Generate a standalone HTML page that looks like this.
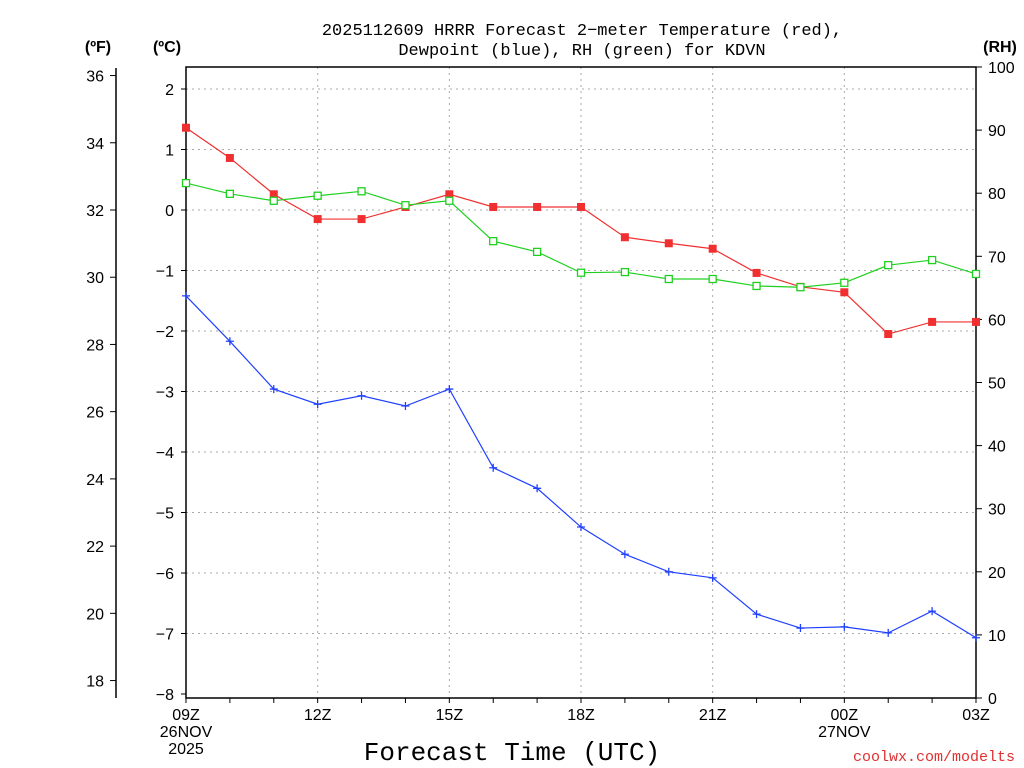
<!DOCTYPE html>
<html><head><meta charset="utf-8"><style>
body{margin:0;background:#fff;}
svg{display:block;font-family:"Liberation Sans",sans-serif;}
</style></head><body>
<svg id="c" width="1024" height="768" viewBox="0 0 1024 768"></svg>
<script>
const hours=["09Z","10Z","11Z","12Z","13Z","14Z","15Z","16Z","17Z","18Z","19Z","20Z","21Z","22Z","23Z","00Z","01Z","02Z","03Z"];
const tempC=[1.36,0.86,0.26,-0.15,-0.15,0.05,0.26,0.05,0.05,0.05,-0.45,-0.55,-0.64,-1.04,-1.27,-1.36,-2.05,-1.85,-1.85];
const dewC=[-1.42,-2.17,-2.96,-3.21,-3.07,-3.24,-2.96,-4.26,-4.60,-5.24,-5.69,-5.98,-6.08,-6.68,-6.91,-6.89,-6.99,-6.63,-7.07];
const rh=[81.6,79.9,78.8,79.6,80.3,78.1,78.8,72.4,70.7,67.4,67.5,66.4,66.4,65.3,65.1,65.8,68.6,69.4,67.2];
const cTicks=[2,1,0,-1,-2,-3,-4,-5,-6,-7,-8];
const fTicks=[36,34,32,30,28,26,24,22,20,18];
const rhTicks=[100,90,80,70,60,50,40,30,20,10,0];
const xLabels=[{i:0,t:["09Z","26NOV","2025"]},{i:3,t:["12Z"]},{i:6,t:["15Z"]},{i:9,t:["18Z"]},{i:12,t:["21Z"]},{i:15,t:["00Z","27NOV"]},{i:18,t:["03Z"]}];

const L=186,R=976,T=67,B=698;
const X=i=>L+i*(R-L)/(hours.length-1);
const YC=c=>210-c*60.5;
const YF=f=>YC((f-32)/1.8);
const YR=r=>B-r*(B-T)/100;
const svg=document.getElementById('c');
const NS='http://www.w3.org/2000/svg';
function el(tag,attrs,name,parent){const e=document.createElementNS(NS,tag);for(const k in attrs)e.setAttribute(k,attrs[k]);


(parent||svg).appendChild(e);return e;}
function txt(x,y,s,name,opts){const e=el('text',Object.assign({x:x,y:y,'font-size':16,fill:'#000'},opts||{}),name);e.textContent=s;return e;}
const MONO='"Liberation Mono",monospace';

for(const c of cTicks){if(c===-8)continue;el('line',{x1:L,x2:R,y1:YC(c),y2:YC(c),stroke:'#aaa','stroke-dasharray':'2,4'},'grid-line-h');}
for(const l of xLabels){if(l.i===0||l.i===18)continue;el('line',{x1:X(l.i),x2:X(l.i),y1:T,y2:B,stroke:'#aaa','stroke-dasharray':'2,4'},'grid-line-v');}
el('rect',{x:L,y:T,width:R-L,height:B-T,fill:'none',stroke:'#000','stroke-width':1.5},'plot-frame');
for(const c of cTicks){const y=YC(c);el('line',{x1:L-5,x2:L,y1:y,y2:y,stroke:'#000'},'c-tick');
txt(L-12,y+6,(c<0?'\u2212':'')+Math.abs(c),'c-tick-label',{'text-anchor':'end'});}
el('line',{x1:116,x2:116,y1:68,y2:698,stroke:'#000','stroke-width':1.5},'f-axis-line');
for(const f of fTicks){const y=YF(f);el('line',{x1:110,x2:116,y1:y,y2:y,stroke:'#000'},'f-tick');
txt(104,y+6,String(f),'f-tick-label',{'text-anchor':'end'});}
for(const r of rhTicks){const y=YR(r);el('line',{x1:R,x2:R+6,y1:y,y2:y,stroke:'#000'},'rh-tick');
txt(R+12,y+6,String(r),'rh-tick-label');}
for(let i=0;i<hours.length;i++){el('line',{x1:X(i),x2:X(i),y1:B,y2:B+5,stroke:'#000'},'x-tick');}
for(const l of xLabels){l.t.forEach((s,k)=>txt(X(l.i),B+22+k*17,s,'x-tick-label',{'text-anchor':'middle'}));}
txt(582,35,'2025112609 HRRR Forecast 2\u2212meter Temperature (red),','chart-title',{'text-anchor':'middle','font-family':MONO,'font-size':17});
txt(582,55,'Dewpoint (blue), RH (green) for KDVN','chart-subtitle',{'text-anchor':'middle','font-family':MONO,'font-size':17});
txt(98,52,'(ºF)','f-axis-title',{'text-anchor':'middle','font-weight':'bold'});
txt(167,52,'(ºC)','c-axis-title',{'text-anchor':'middle','font-weight':'bold'});
txt(1000,52,'(RH)','rh-axis-title',{'text-anchor':'middle','font-weight':'bold'});
txt(512,760,'Forecast Time (UTC)','x-axis-title',{'text-anchor':'middle','font-size':26,'font-family':MONO});
txt(1015,761,'coolwx.com/modelts','credit-text',{'text-anchor':'end','fill':'#e03030','font-size':15,'font-family':MONO});
function line(vals,yf,color,name){el('polyline',{points:vals.map((v,i)=>X(i)+','+yf(v)).join(' '),fill:'none',stroke:color,'stroke-width':1.2},name);}
line(tempC,YC,'#f03030','temperature-line');
line(dewC,YC,'#2040ff','dewpoint-line');
line(rh,YR,'#20d020','rh-line');
tempC.forEach((v,i)=>el('rect',{x:X(i)-4,y:YC(v)-4,width:8,height:8,fill:'#f03030'},'temperature-point'));
rh.forEach((v,i)=>el('rect',{x:X(i)-3.5,y:YR(v)-3.5,width:7,height:7,fill:'#fff',stroke:'#20d020','stroke-width':1.3},'rh-point'));
dewC.forEach((v,i)=>{const x=X(i),y=YC(v);el('path',{d:`M${x-4},${y}H${x+4}M${x},${y-4}V${y+4}`,stroke:'#2040ff','stroke-width':1.3},'dewpoint-point');});
</script>
</body></html>
